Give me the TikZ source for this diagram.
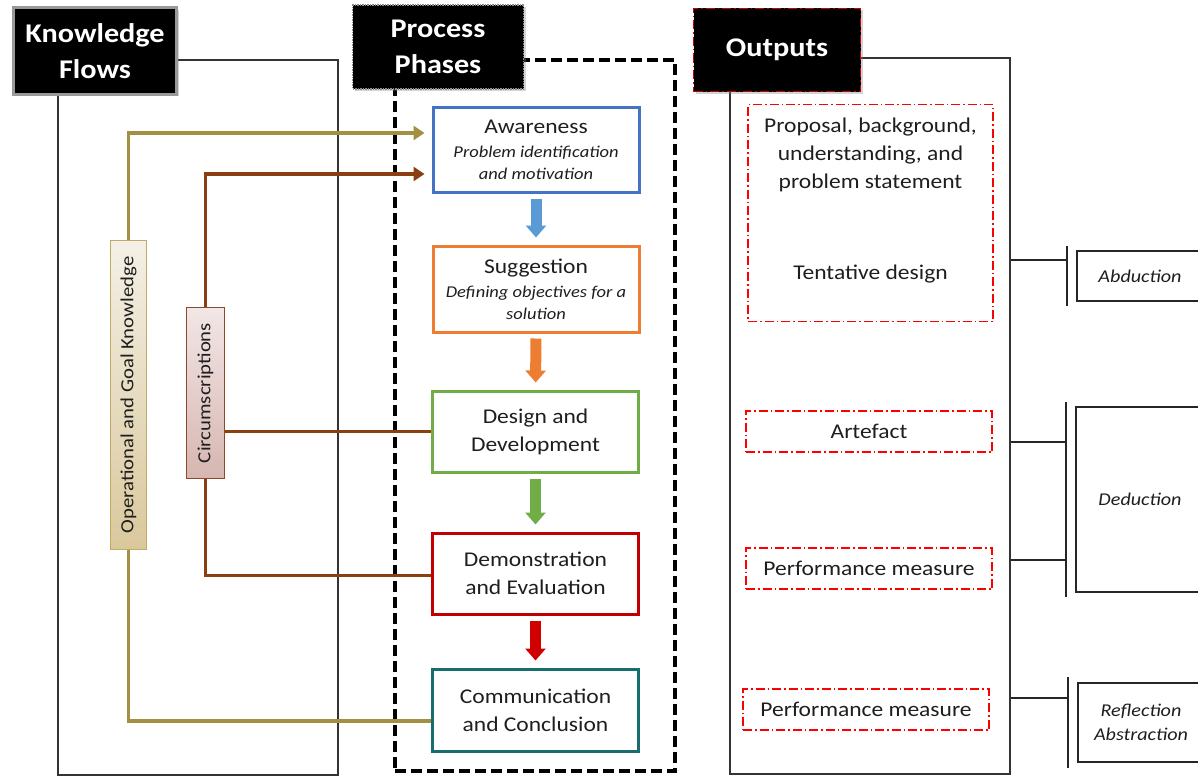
\documentclass[tikz,border=0pt]{standalone}
\usepackage{fontspec}
\setmainfont{Carlito}[FakeStretch=1.12]
\usetikzlibrary{arrows.meta,shadows,calc}

\definecolor{txt}{RGB}{30,30,30}
\definecolor{olive}{RGB}{164,143,66}
\definecolor{brownline}{RGB}{139,62,18}
\definecolor{awblue}{RGB}{68,114,196}
\definecolor{sgorange}{RGB}{237,125,49}
\definecolor{ddgreen}{RGB}{112,173,71}
\definecolor{dered}{RGB}{192,0,0}
\definecolor{ccteal}{RGB}{24,110,110}
\definecolor{arblue}{RGB}{91,155,213}
\definecolor{arred}{RGB}{208,0,0}
\definecolor{ogkborder}{RGB}{190,172,100}
\definecolor{ogktop}{RGB}{244,240,230}
\definecolor{ogkbot}{RGB}{218,200,156}
\definecolor{cirborder}{RGB}{140,72,40}
\definecolor{cirtop}{RGB}{242,230,230}
\definecolor{cirbot}{RGB}{214,182,176}

\newcommand\phasetitlefont{\fontsize{21}{28}\selectfont}
\newcommand\phasesubfont{\itshape\fontsize{16.5}{22}\selectfont}

\tikzset{
  header/.style={fill=black, text=white, font=\bfseries\fontsize{27}{36}\selectfont,
    align=center, inner sep=0pt},
  frame/.style={draw=black!80, line width=1.2pt, inner sep=0pt},
  phase/.style={draw=#1, line width=3pt, fill=white, text=txt, align=center,
    inner sep=0pt, minimum width=206pt, font=\phasetitlefont},
  flow/.style={line width=3.2pt, line cap=butt},
  flowtip/.style={-{Triangle[length=11pt,width=14pt]}},
  blockarrow/.style={line width=11pt, -{Triangle[length=12pt,width=20pt]},
    shorten <=5pt, shorten >=7pt},
  outbox/.style={draw=red, line width=1.4pt,
    dash pattern=on 9pt off 3pt on 1.5pt off 3pt, inner sep=0pt},
  outtext/.style={text=txt, align=center, font=\fontsize{21}{28}\selectfont},
  reason/.style={draw=black!85, line width=1.4pt, inner sep=0pt, text=txt,
    align=center, font=\itshape\fontsize{18}{24}\selectfont},
  bar/.style={draw=black!85, line width=1.4pt},
}

\begin{document}
\begin{tikzpicture}[x=1pt,y=-1pt]
\useasboundingbox (0,0) rectangle (1198,776);
\clip (0,0) rectangle (1198,776);

% ---------- frames ----------
\node[frame, minimum width=280pt, minimum height=715pt] (kfframe) at (198,417.5) {};
\node[frame, minimum width=280pt, minimum height=716pt] (outframe) at (870,416) {};
\node[draw=black, line width=4pt, dash pattern=on 11pt off 5pt, inner sep=0pt,
      minimum width=280pt, minimum height=711pt] (ppframe) at (535,415.5) {};

% ---------- headers ----------
\node[header, draw=black!40, line width=3pt, minimum width=163pt, minimum height=86pt,
      drop shadow={shadow xshift=2pt, shadow yshift=-2pt, opacity=0.35}]
  (kfhead) at (95,51) {Knowledge\\Flows};
\node[header, draw=black!45, line width=1.5pt, densely dotted, minimum width=171pt,
      minimum height=84pt,
      drop shadow={shadow xshift=2pt, shadow yshift=-2pt, opacity=0.35}]
  (pphead) at (438,47) {Process\\Phases};
\node[header, draw=red!80!black, line width=1.5pt,
      dash pattern=on 9pt off 3pt on 1.5pt off 3pt, minimum width=167pt,
      minimum height=83pt,
      drop shadow={shadow xshift=2pt, shadow yshift=-2pt, opacity=0.35}]
  (outhead) at (777,50) {Outputs};

% ---------- process phases ----------
\node[phase=awblue, minimum height=85pt] (aw) at (536,149.5)
  {Awareness\\[-4pt]\phasesubfont Problem identification\\[-6pt]\phasesubfont and motivation};
\node[phase=sgorange, minimum height=86pt] (sg) at (536,289)
  {Suggestion\\[-4pt]\phasesubfont Defining objectives for a\\[-6pt]\phasesubfont solution};
\node[phase=ddgreen, minimum height=81pt] (dd) at (535.5,431.5)
  {Design and\\Development};
\node[phase=dered, minimum height=81pt] (dm) at (535.5,573.5)
  {Demonstration\\and Evaluation};
\node[phase=ccteal, minimum height=82pt] (cc) at (535.5,710)
  {Communication\\and Conclusion};

\draw[blockarrow, arblue]   (aw) -- (sg);
\draw[blockarrow, sgorange] (sg) -- (dd);
\draw[blockarrow, ddgreen]  (dd) -- (dm);
\draw[blockarrow, arred]    (dm) -- (cc);

% ---------- knowledge flows ----------
\node[draw=ogkborder, line width=1.2pt, top color=ogktop, bottom color=ogkbot,
      minimum width=36pt, minimum height=309pt, inner sep=0pt] (ogk) at (128.5,395)
  {\rotatebox{90}{\color{txt}\fontsize{18.5}{22}\selectfont Operational and Goal Knowledge}};
\node[draw=cirborder, line width=1.2pt, top color=cirtop, bottom color=cirbot,
      minimum width=38pt, minimum height=171pt, inner sep=0pt] (cir) at (205.5,393)
  {\rotatebox{90}{\color{txt}\fontsize{18.5}{22}\selectfont Circumscriptions}};

\draw[flow, olive, flowtip] (ogk.north) |- ($(aw.west)+(-7,-16.5)$);
\draw[flow, brownline, flowtip] (cir.north) |- ($(aw.west)+(-7,24.5)$);
\draw[flow, brownline] (cir.east |- dd.west) -- (dd.west);
\draw[flow, brownline] (cir.south) |- ($(dm.west)+(0,2)$);
\draw[flow, olive] (ogk.south) |- ($(cc.west)+(0,11)$);

% ---------- outputs ----------
\node[outbox, minimum width=245pt, minimum height=217pt] (o1) at (870.5,213) {};
\node[outtext] (o1a) at (870.5,155) {Proposal, background,\\understanding, and\\problem statement};
\node[outtext] (o1b) at (870.5,274) {Tentative design};
\node[outbox, outtext, minimum width=246pt, minimum height=41pt] (art) at (869,431.5) {Artefact};
\node[outbox, outtext, minimum width=246pt, minimum height=41pt] (pm1) at (869,568.5) {Performance measure};
\node[outbox, outtext, minimum width=246pt, minimum height=41pt] (pm2) at (866,709.5) {Performance measure};

% ---------- reasoning ----------
\node[reason, minimum width=126pt, minimum height=50pt] (abd) at (1140,276) {Abduction};
\node[reason, minimum width=128pt, minimum height=185pt] (ded) at (1140,499.5) {Deduction};
\node[reason, minimum width=126pt, minimum height=79pt] (ref) at (1141,722.5) {Reflection\\Abstraction};

\coordinate (abdT) at (1067,246);
\coordinate (abdB) at (1067,306);
\coordinate (dedT) at (1066,402);
\coordinate (dedB) at (1066,597);
\coordinate (refT) at (1068,677);
\coordinate (refB) at (1068,768);
\draw[bar] (abdT) -- (abdB);
\draw[bar] (dedT) -- (dedB);
\draw[bar] (refT) -- (refB);

\draw[bar] (outframe.east |- 0,260) -- (abdT |- 0,260);
\draw[bar] (outframe.east |- 0,442) -- (dedT |- 0,442);
\draw[bar] (outframe.east |- 0,560) -- (dedT |- 0,560);
\draw[bar] (outframe.east |- 0,698) -- (refT |- 0,698);
\end{tikzpicture}
\end{document}
